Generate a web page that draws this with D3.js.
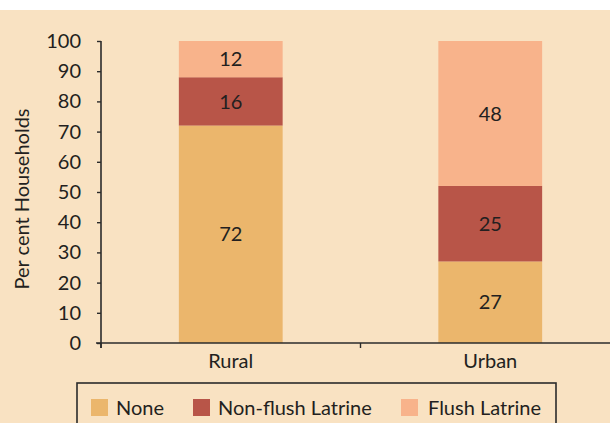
<!DOCTYPE html>
<html>
<head>
<meta charset="utf-8">
<script src="https://cdn.jsdelivr.net/npm/d3@7"></script>
<style>
  body { margin: 0; background: #fff; }
  text { font-family: Lato, "Noto Sans", sans-serif; fill: #231f20; }
</style>
</head>
<body>
<div id="chart"></div>
<script>
// data
var areas = ["Rural", "Urban"];
var kinds = ["None", "Non-flush Latrine", "Flush Latrine"];
var none = [72, 27];
var nonFlush = [16, 25];
var flush = [12, 48];
var yTicks = [0, 10, 20, 30, 40, 50, 60, 70, 80, 90, 100];

var colours = ["#ebb66c", "#b85548", "#f8b38b"];

var width = 610, height = 423;
var svg = d3.select("#chart").append("svg")
    .attr("width", width)
    .attr("height", height);

// beige panel, small white strip on top
svg.append("rect")
    .attr("x", 0).attr("y", 10)
    .attr("width", width).attr("height", height - 10)
    .attr("fill", "#f9e2c2");

var x = d3.scaleBand().domain(areas).range([101, 620]).paddingInner(0.6).paddingOuter(0.3);
var y = d3.scaleLinear().domain([0, 100]).range([343, 41]);

// build stacks
var rows = areas.map(function(a, i){
    return { area: a, "None": none[i], "Non-flush Latrine": nonFlush[i], "Flush Latrine": flush[i] };
});
var stack = d3.stack().keys(kinds)(rows);

var layer = svg.append("g").selectAll("g")
    .data(stack)
    .enter().append("g")
    .attr("fill", function(d, i){ return colours[i]; });

layer.selectAll("rect")
    .data(function(d){ return d; })
    .enter().append("rect")
    .attr("x", function(d){ return x(d.data.area); })
    .attr("width", x.bandwidth())
    .attr("y", function(d){ return y(d[1]); })
    .attr("height", function(d){ return y(d[0]) - y(d[1]); });

// value labels in the middle of each piece
layer.selectAll("text")
    .data(function(d){ return d; })
    .enter().append("text")
    .attr("x", function(d){ return x(d.data.area) + x.bandwidth() / 2; })
    .attr("y", function(d){ return y((d[0] + d[1]) / 2); })
    .attr("dy", "0.36em")
    .attr("text-anchor", "middle")
    .style("font-size", "20px")
    .text(function(d){ return d[1] - d[0]; });

// y axis
var yAxis = svg.append("g")
    .attr("transform", "translate(101,0)")
    .call(d3.axisLeft(y).tickValues(yTicks).tickSize(4).tickPadding(16).tickSizeOuter(0));
yAxis.select(".domain").attr("stroke", "#2b2b2b").attr("stroke-width", 1.6)
    .attr("d", "M0,41V348");
yAxis.selectAll(".tick line").attr("stroke", "#2b2b2b").attr("stroke-width", 1.4);
yAxis.selectAll(".tick text").style("font-size", "20px").style("font-family", "Lato, 'Noto Sans', sans-serif").attr("fill", "#231f20");

// x axis: line, ticks between the groups, labels under bars
var step = x.step();
var bounds = [0, 1, 2].map(function(i){ return 101 + i * step; });
svg.append("line")
    .attr("x1", 96).attr("x2", width)
    .attr("y1", 343).attr("y2", 343)
    .attr("stroke", "#2b2b2b").attr("stroke-width", 1.6);
svg.selectAll(".xtick")
    .data(bounds)
    .enter().append("line")
    .attr("class", "xtick")
    .attr("x1", function(d){ return d; }).attr("x2", function(d){ return d; })
    .attr("y1", 343).attr("y2", 348)
    .attr("stroke", "#2b2b2b").attr("stroke-width", 1.4);
svg.selectAll(".xlab")
    .data(areas)
    .enter().append("text")
    .attr("x", function(d){ return x(d) + x.bandwidth() / 2; })
    .attr("y", 368)
    .attr("text-anchor", "middle")
    .style("font-size", "20px")
    .text(function(d){ return d; });

// y title
svg.append("text")
    .attr("transform", "translate(29,199) rotate(-90)")
    .attr("text-anchor", "middle")
    .style("font-size", "20px")
    .text("Per cent Households");

// legend
svg.append("rect")
    .attr("x", 77).attr("y", 383)
    .attr("width", 479).attr("height", 50)
    .attr("fill", "none")
    .attr("stroke", "#2b2b2b").attr("stroke-width", 1.6);
var legX = [91, 193, 401];
var leg = svg.selectAll(".leg")
    .data(kinds)
    .enter().append("g")
    .attr("class", "leg")
    .attr("transform", function(d, i){ return "translate(" + legX[i] + ",399)"; });
leg.append("rect")
    .attr("width", 17).attr("height", 17)
    .attr("fill", function(d, i){ return colours[i]; });
leg.append("text")
    .attr("x", function(d, i){ return i == 2 ? 27 : 25; })
    .attr("y", 16)
    .style("font-size", "20px")
    .text(function(d){ return d; });
</script>
</body>
</html>
